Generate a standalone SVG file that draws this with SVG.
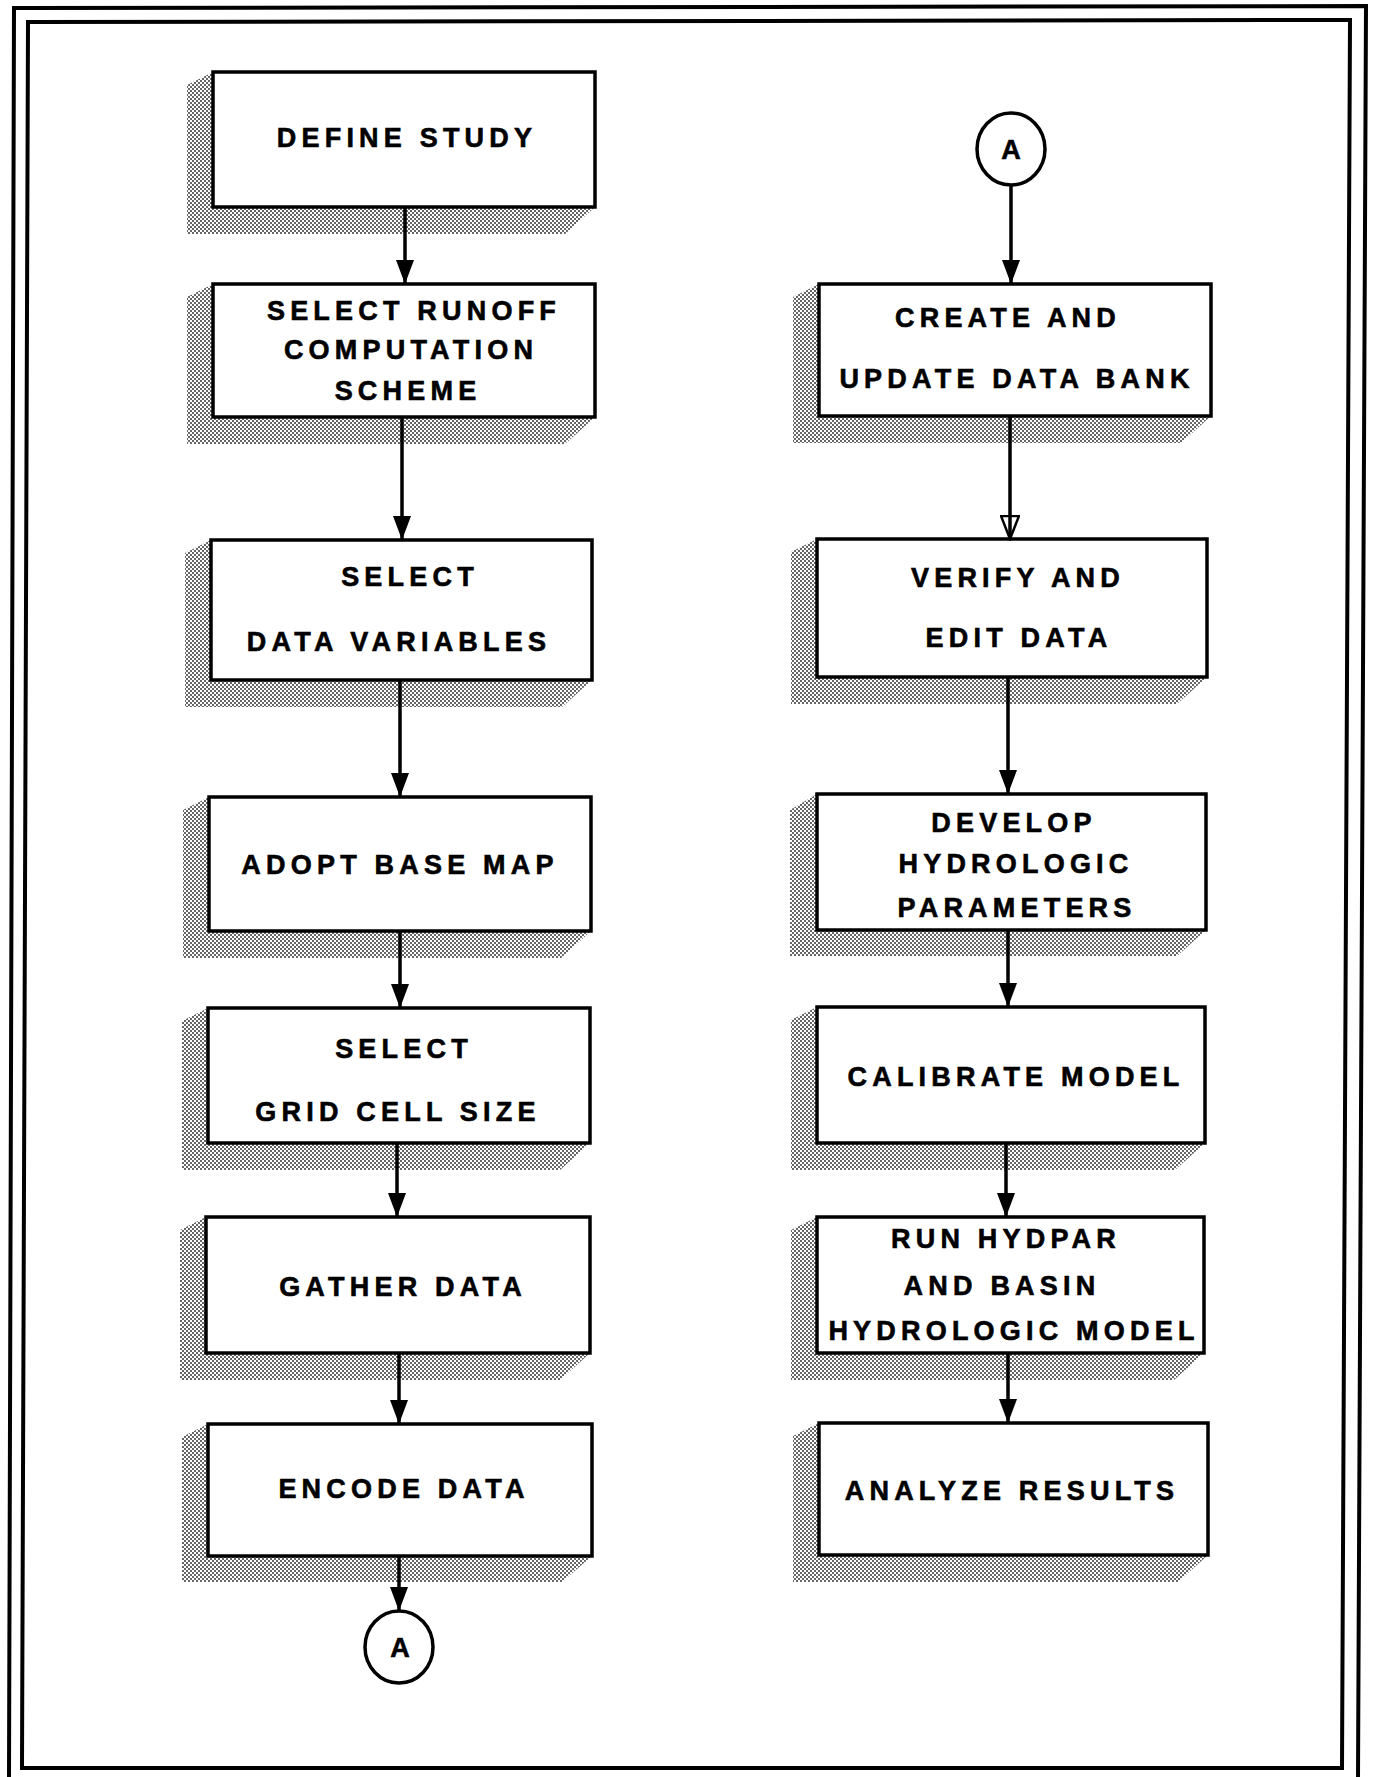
<svg xmlns="http://www.w3.org/2000/svg" width="1374" height="1777" viewBox="0 0 1374 1777">
<defs>
<pattern id="dots" width="4" height="4" patternUnits="userSpaceOnUse">
<rect width="4" height="4" fill="#ffffff"/>
<rect x="0" y="0" width="2" height="2" fill="#666666"/>
<rect x="2" y="2" width="2" height="2" fill="#666666"/>
</pattern>
<marker id="arr" viewBox="0 0 24 18" refX="24" refY="9" markerWidth="24" markerHeight="18" markerUnits="userSpaceOnUse" orient="auto">
<path d="M0,0 L24,9 L0,18 z" fill="#000"/>
</marker>
<marker id="open" viewBox="0 0 26 20" refX="24" refY="10" markerWidth="26" markerHeight="20" markerUnits="userSpaceOnUse" orient="auto">
<path d="M1,1 L24,10 L1,19 z" fill="none" stroke="#000" stroke-width="2.5"/>
</marker>
</defs>
<style>
.box{fill:#fff;stroke:#000;stroke-width:3.5}
.sh{fill:url(#dots)}
.t{font-family:"Liberation Sans",Arial,sans-serif;font-weight:bold;font-size:27px;letter-spacing:5.2px;text-anchor:middle;fill:#000;stroke:#000;stroke-width:0.6}
.c{stroke:#000;stroke-width:3.5;fill:none}
.frame{stroke:#000;stroke-width:4;fill:none}
</style>
<rect width="1374" height="1777" fill="#fff"/>
<g id="frame">
<path class="frame" d="M9,1777 L14,8 L1366,6 L1358,1777"/>
<path class="frame" d="M22,1768 L28,22 L1350,20 L1342,1768 Z"/>
</g>

<g id="n1">
<polygon class="sh" points="213,72 187,85 187,234 565,234 595,207"/>
<rect class="box" x="213" y="72" width="382" height="135"/>
<text class="t" x="407" y="147">DEFINE STUDY</text>
</g>
<g id="n2">
<polygon class="sh" points="213,284 187,297 187,444 565,444 595,417"/>
<rect class="box" x="213" y="284" width="382" height="133"/>
<text class="t" x="414" y="320">SELECT RUNOFF</text>
<text class="t" x="411" y="359">COMPUTATION</text>
<text class="t" x="408" y="400">SCHEME</text>
</g>
<g id="n3">
<polygon class="sh" points="211,540 185,553 185,707 562,707 592,680"/>
<rect class="box" x="211" y="540" width="381" height="140"/>
<text class="t" x="410" y="586">SELECT</text>
<text class="t" x="399" y="651">DATA VARIABLES</text>
</g>
<g id="n4">
<polygon class="sh" points="209,797 183,810 183,958 561,958 591,931"/>
<rect class="box" x="209" y="797" width="382" height="134"/>
<text class="t" x="400" y="874">ADOPT BASE MAP</text>
</g>
<g id="n5">
<polygon class="sh" points="208,1008 182,1021 182,1170 560,1170 590,1143"/>
<rect class="box" x="208" y="1008" width="382" height="135"/>
<text class="t" x="404" y="1058">SELECT</text>
<text class="t" x="398" y="1121">GRID CELL SIZE</text>
</g>
<g id="n6">
<polygon class="sh" points="206,1217 180,1230 180,1380 560,1380 590,1353"/>
<rect class="box" x="206" y="1217" width="384" height="136"/>
<text class="t" x="403" y="1296">GATHER DATA</text>
</g>
<g id="n7">
<polygon class="sh" points="208,1424 182,1437 182,1582 562,1582 592,1556"/>
<rect class="box" x="208" y="1424" width="384" height="132"/>
<text class="t" x="404" y="1498">ENCODE DATA</text>
</g>
<g id="n8">
<ellipse cx="399" cy="1647" rx="34" ry="36" fill="#fff" stroke="#000" stroke-width="3.5"/>
<text class="t" x="400" y="1657" style="letter-spacing:0">A</text>
</g>

<g id="n9">
<ellipse cx="1011" cy="149" rx="34" ry="36" fill="#fff" stroke="#000" stroke-width="3.5"/>
<text class="t" x="1011" y="159" style="letter-spacing:0">A</text>
</g>
<g id="n10">
<polygon class="sh" points="819,284 793,297 793,443 1181,443 1211,416"/>
<rect class="box" x="819" y="284" width="392" height="132"/>
<text class="t" x="1008" y="327">CREATE AND</text>
<text class="t" x="1017" y="388">UPDATE DATA BANK</text>
</g>
<g id="n11">
<polygon class="sh" points="817,539 791,552 791,704 1177,704 1207,677"/>
<rect class="box" x="817" y="539" width="390" height="138"/>
<text class="t" x="1018" y="587">VERIFY AND</text>
<text class="t" x="1019" y="647">EDIT DATA</text>
</g>
<g id="n12">
<polygon class="sh" points="817,794 790,810 790,956 1177,956 1206,930"/>
<rect class="box" x="817" y="794" width="389" height="136"/>
<text class="t" x="1014" y="832">DEVELOP</text>
<text class="t" x="1016" y="873">HYDROLOGIC</text>
<text class="t" x="1017" y="917">PARAMETERS</text>
</g>
<g id="n13">
<polygon class="sh" points="817,1007 791,1020 791,1170 1175,1170 1205,1143"/>
<rect class="box" x="817" y="1007" width="388" height="136"/>
<text class="t" x="1016" y="1086">CALIBRATE MODEL</text>
</g>
<g id="n14">
<polygon class="sh" points="817,1217 791,1230 791,1380 1174,1380 1204,1353"/>
<rect class="box" x="817" y="1217" width="387" height="136"/>
<text class="t" x="1006" y="1248">RUN HYDPAR</text>
<text class="t" x="1002" y="1295">AND BASIN</text>
<text class="t" x="1014" y="1340">HYDROLOGIC MODEL</text>
</g>
<g id="n15">
<polygon class="sh" points="819,1423 793,1436 793,1582 1178,1582 1208,1555"/>
<rect class="box" x="819" y="1423" width="389" height="132"/>
<text class="t" x="1012" y="1500">ANALYZE RESULTS</text>
</g>

<g id="connectors">
<line class="c" x1="405" y1="207" x2="405" y2="284" marker-end="url(#arr)"/>
<line class="c" x1="402" y1="417" x2="402" y2="540" marker-end="url(#arr)"/>
<line class="c" x1="400" y1="680" x2="400" y2="797" marker-end="url(#arr)"/>
<line class="c" x1="400" y1="931" x2="400" y2="1008" marker-end="url(#arr)"/>
<line class="c" x1="397" y1="1143" x2="397" y2="1217" marker-end="url(#arr)"/>
<line class="c" x1="399" y1="1353" x2="399" y2="1424" marker-end="url(#arr)"/>
<line class="c" x1="399" y1="1556" x2="399" y2="1611" marker-end="url(#arr)"/>
<line class="c" x1="1011" y1="185" x2="1011" y2="284" marker-end="url(#arr)"/>
<line class="c" x1="1010" y1="416" x2="1010" y2="539" marker-end="url(#open)"/>
<line class="c" x1="1008" y1="677" x2="1008" y2="794" marker-end="url(#arr)"/>
<line class="c" x1="1008" y1="930" x2="1008" y2="1007" marker-end="url(#arr)"/>
<line class="c" x1="1006" y1="1143" x2="1006" y2="1217" marker-end="url(#arr)"/>
<line class="c" x1="1008" y1="1353" x2="1008" y2="1423" marker-end="url(#arr)"/>
</g>
</svg>
